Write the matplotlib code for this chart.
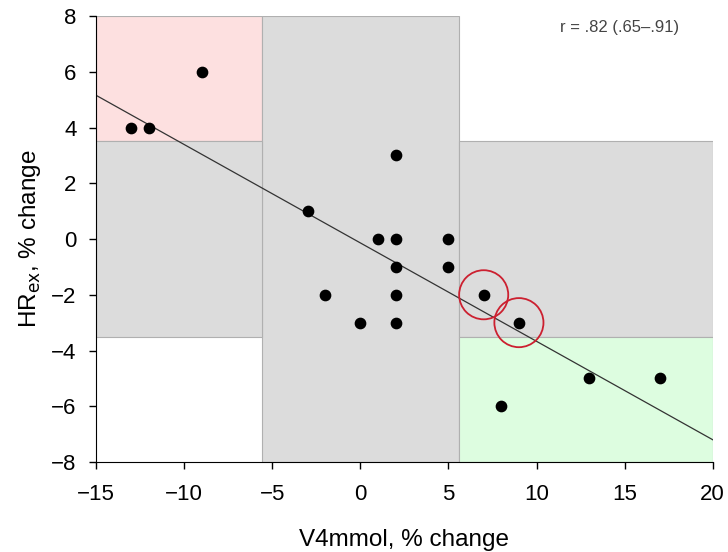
import matplotlib.pyplot as plt
from matplotlib.patches import Rectangle

plt.rcParams['font.family'] = ['Liberation Sans', 'DejaVu Sans']

# change in V4mmol vs change in HRex (%)
v4_change = [-13, -12, -9, -3, 2, 1, 2, 5, 2, 5, -2, 2, 0, 2, 7, 9, 8, 13, 17]
hr_change = [4, 4, 6, 1, 3, 0, 0, 0, -1, -1, -2, -2, -3, -3, -2, -3, -6, -5, -5]
flagged_v4 = [7, 9]
flagged_hr = [-2, -3]

# smallest worthwhile change bands
v4_swc = 5.6
hr_swc = 3.5

# regression line end points
fit_x = [-15, 20]
fit_slope = -0.353
fit_icpt = -0.14

fig = plt.figure(figsize=(7.28, 5.52), dpi=100)
ax = fig.add_axes([0.132, 0.163, 0.847, 0.808])

gray = '#dcdcdc'
edge = '#b0b0b0'
zones = [
    ((-15, hr_swc), 15 - v4_swc, 8 - hr_swc, '#fde0e0'),
    ((-v4_swc, -8), 2 * v4_swc, 16, gray),
    ((-15, -hr_swc), 15 - v4_swc, 2 * hr_swc, gray),
    ((v4_swc, -hr_swc), 20 - v4_swc, 2 * hr_swc, gray),
    ((v4_swc, -8), 20 - v4_swc, 8 - hr_swc, '#ddfde0'),
]
for xy, w, h, c in zones:
    ax.add_patch(Rectangle(xy, w, h, facecolor=c, edgecolor=edge, lw=0.8, zorder=0))

ax.plot(fit_x, [fit_icpt + fit_slope * x for x in fit_x], color='#333333', lw=0.9, zorder=2)
ax.scatter(v4_change, hr_change, s=55, color='black', zorder=3)
ax.scatter(flagged_v4, flagged_hr, s=1250, facecolors='none', edgecolors='#cc2030', lw=1.3, zorder=4)

ax.text(14.7, 7.6, 'r = .82 (.65\u2013.91)', fontsize=12, color='#444444', ha='center', va='center')

ax.set_xlim(-15, 20)
ax.set_ylim(-8, 8)
ax.set_xticks(range(-15, 21, 5))
ax.set_yticks(range(-8, 9, 2))
ax.tick_params(direction='out', length=5, width=1, labelsize=16)
ax.tick_params(axis='x', pad=11)
ax.tick_params(axis='y', pad=9)
for s in ['top', 'right']:
    ax.spines[s].set_visible(False)
ax.set_xlabel('V4mmol, % change', fontsize=17.5, labelpad=17)
ax.set_ylabel('HR$_{\\mathrm{ex}}$, % change', fontsize=17.5, labelpad=6)

fig.savefig('out.png', dpi=100)
